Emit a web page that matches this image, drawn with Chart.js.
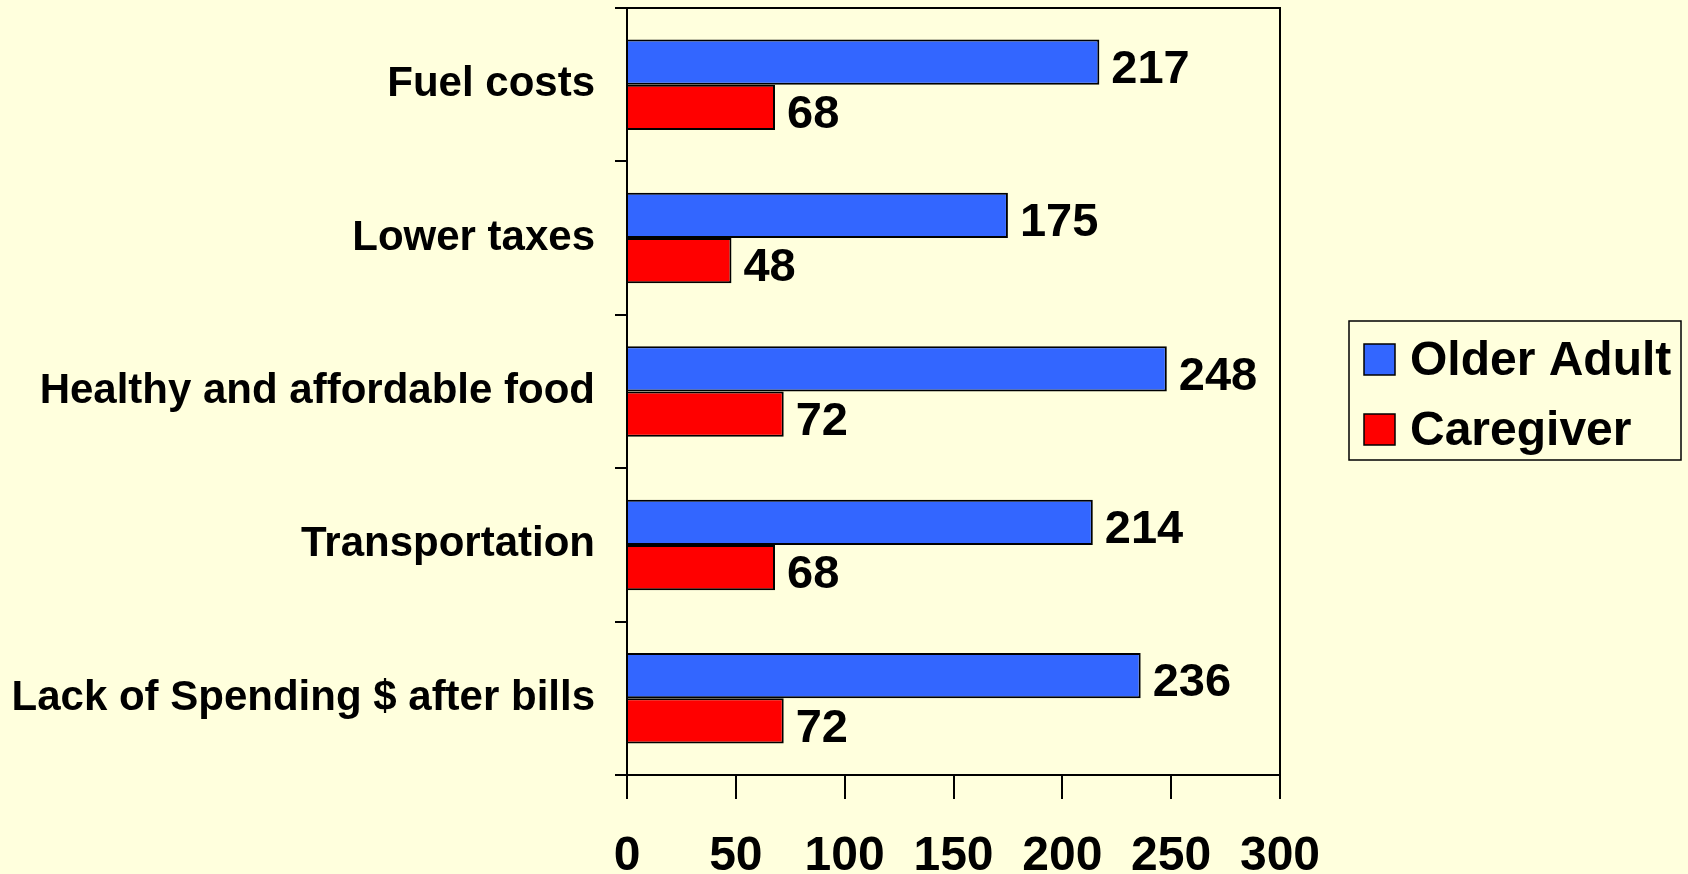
<!DOCTYPE html>
<html>
<head>
<meta charset="utf-8">
<script src="https://cdn.jsdelivr.net/npm/chart.js@4.4.1/dist/chart.umd.min.js"></script>
<style>
  body { margin: 0; background: #FFFFDD; }
  #wrap { width: 1688px; height: 874px; }
</style>
</head>
<body>
<div id="wrap"><canvas id="barChart" width="1688" height="874"></canvas></div>
<script>
const categories = ['Fuel costs', 'Lower taxes', 'Healthy and affordable food', 'Transportation', 'Lack of Spending $ after bills'];
const olderAdult = [217, 175, 248, 214, 236];
const caregiver = [68, 48, 72, 68, 72];
const seriesNames = ['Older Adult', 'Caregiver'];
const xMin = 0, xMax = 300, xStep = 50;

const FONT = '"Liberation Sans", Arial, sans-serif';

// border round the plot area (top + right sides too)
const frame = {
  id: 'frame',
  afterDraw(chart) {
    const { ctx, chartArea: a } = chart;
    ctx.save();
    ctx.strokeStyle = '#000';
    ctx.lineWidth = 2;
    ctx.strokeRect(a.left, a.top, a.right - a.left, a.bottom - a.top);
    ctx.restore();
  }
};

// numbers at bar ends
const valueLabels = {
  id: 'valueLabels',
  afterDatasetsDraw(chart) {
    const ctx = chart.ctx;
    ctx.save();
    ctx.font = 'bold 47px ' + FONT;
    ctx.fillStyle = '#000';
    ctx.textAlign = 'left';
    ctx.textBaseline = 'alphabetic';
    chart.data.datasets.forEach((ds, i) => {
      chart.getDatasetMeta(i).data.forEach((bar, j) => {
        ctx.fillText(ds.data[j], bar.x + 12, bar.y + bar.height / 2 - 2);
      });
    });
    ctx.restore();
  }
};

// boxed legend on the right
const boxLegend = {
  id: 'boxLegend',
  afterDraw(chart) {
    const ctx = chart.ctx;
    const bx = 1349, by = 321, bw = 332, bh = 139;
    ctx.save();
    ctx.strokeStyle = '#000';
    ctx.lineWidth = 1.5;
    ctx.strokeRect(bx, by, bw, bh);
    ctx.font = 'bold 48px ' + FONT;
    ctx.textBaseline = 'alphabetic';
    chart.data.datasets.forEach((ds, i) => {
      const cy = 344 + i * 70;
      ctx.fillStyle = ds.backgroundColor;
      ctx.fillRect(1364, cy, 31, 31);
      ctx.lineWidth = 1.5;
      ctx.strokeRect(1364, cy, 31, 31);
      ctx.fillStyle = '#000';
      ctx.fillText(ds.label, 1410, 375 + i * 70);
    });
    ctx.restore();
  }
};

new Chart(document.getElementById('barChart'), {
  type: 'bar',
  data: {
    labels: categories,
    datasets: [
      { label: seriesNames[0], data: olderAdult, backgroundColor: '#3366FF', borderColor: '#000', borderWidth: 2 },
      { label: seriesNames[1], data: caregiver, backgroundColor: '#FF0000', borderColor: '#000', borderWidth: 2 }
    ]
  },
  options: {
    indexAxis: 'y',
    responsive: false,
    animation: false,
    layout: { padding: { left: 14, right: 408, top: 8, bottom: 0 } },
    datasets: { bar: { categoryPercentage: 0.59, barPercentage: 1 } },
    plugins: {
      legend: { display: false },
      tooltip: { enabled: false }
    },
    scales: {
      x: {
        min: xMin, max: xMax,
        ticks: { stepSize: xStep, color: '#000', font: { family: FONT, size: 48, weight: 'bold', lineHeight: 1 }, padding: 34 },
        grid: { drawOnChartArea: false, drawTicks: true, tickLength: 24, color: '#000', lineWidth: 2 },
        border: { color: '#000', width: 2 },
        afterFit(scale) {
          scale.height = 99;
          scale.paddingLeft = 0;
        }
      },
      y: {
        ticks: { color: '#000', font: { family: FONT, size: 42, weight: 'bold' }, padding: 20 },
        grid: { drawOnChartArea: false, drawTicks: true, tickLength: 12, color: '#000', lineWidth: 2, offset: true },
        border: { color: '#000', width: 2 },
        afterFit(scale) {
          // labels sit inside their bands, no extra room needed above/below
          scale.paddingTop = 0;
          scale.paddingBottom = 0;
          scale.width = 613;
        }
      }
    }
  },
  plugins: [frame, valueLabels, boxLegend]
});
</script>
</body>
</html>
